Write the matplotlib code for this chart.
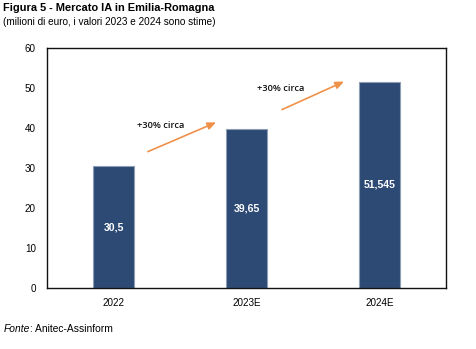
import matplotlib
matplotlib.use("Agg")
import matplotlib.pyplot as plt
from matplotlib.transforms import offset_copy

# Data
categories = ["2022", "2023E", "2024E"]
values = [30.5, 39.65, 51.545]
value_labels = ["30,5", "39,65", "51,545"]
growth_label = "+30% circa"

BAR_COLOR = "#2C4A74"
EDGE_COLOR = "#8C9DB5"
ARROW_COLOR = "#F0914A"
FONT = "Liberation Sans"

fig = plt.figure(figsize=(4.77, 3.49), dpi=100)
ax = fig.add_axes([47 / 477, 1 - 288 / 349, 399 / 477, 240 / 349])

x = list(range(len(categories)))
ax.bar(x, values, width=0.31, color=BAR_COLOR, edgecolor=EDGE_COLOR,
       linewidth=0.8, zorder=2)

for xi, v, lab in zip(x, values, value_labels):
    ax.text(xi, v / 2, lab, ha="center", va="center", color="white",
            fontsize=7.6, fontweight="bold", family=FONT)

ax.set_xlim(-0.5, len(categories) - 0.5)
ax.set_ylim(0, 60)
ax.set_yticks(range(0, 61, 10))
ax.set_xticks(x)
ax.set_xticklabels(categories)
ax.tick_params(length=0, labelsize=7.1)
ax.tick_params(axis="x", pad=7)
ax.tick_params(axis="y", pad=8)
for t in ax.get_xticklabels() + ax.get_yticklabels():
    t.set_family(FONT)
for s in ax.spines.values():
    s.set_linewidth(1.0)
    s.set_color("#111111")

# Growth arrows between bars
arrows = [((0.259, 34.1), (0.771, 41.4), (0.18, 40.6)),
          ((1.267, 44.6), (1.733, 51.6), (1.08, 49.9))]
for start, end, txt in arrows:
    ax.annotate("", xy=end, xytext=start,
                arrowprops=dict(arrowstyle="-|>,head_length=0.5,head_width=0.22",
                                color=ARROW_COLOR, lw=1.2, shrinkA=0, shrinkB=0))
    ax.text(txt[0], txt[1], growth_label, ha="left", va="center",
            fontsize=6.7, fontweight="semibold", family="Open Sans", color="#111111")

fig.text(3 / 477, 1 - 8 / 349, "Figura 5 - Mercato IA in Emilia-Romagna",
         ha="left", va="center", fontsize=7.9, fontweight="bold", family=FONT)
fig.text(3 / 477, 1 - 22 / 349, "(milioni di euro, i valori 2023 e 2024 sono stime)",
         ha="left", va="center", fontsize=7.2, family=FONT)

src = fig.text(4 / 477, 1 - 329 / 349, "Fonte", ha="left", va="center",
               fontsize=7.4, style="italic", family=FONT)
fig.canvas.draw()
bb = src.get_window_extent(fig.canvas.get_renderer())
fig.text(bb.x1 / fig.bbox.width, 1 - 329 / 349, ": Anitec-Assinform", ha="left",
         va="center", fontsize=7.4, family=FONT)

fig.savefig("out.png", dpi=100)
